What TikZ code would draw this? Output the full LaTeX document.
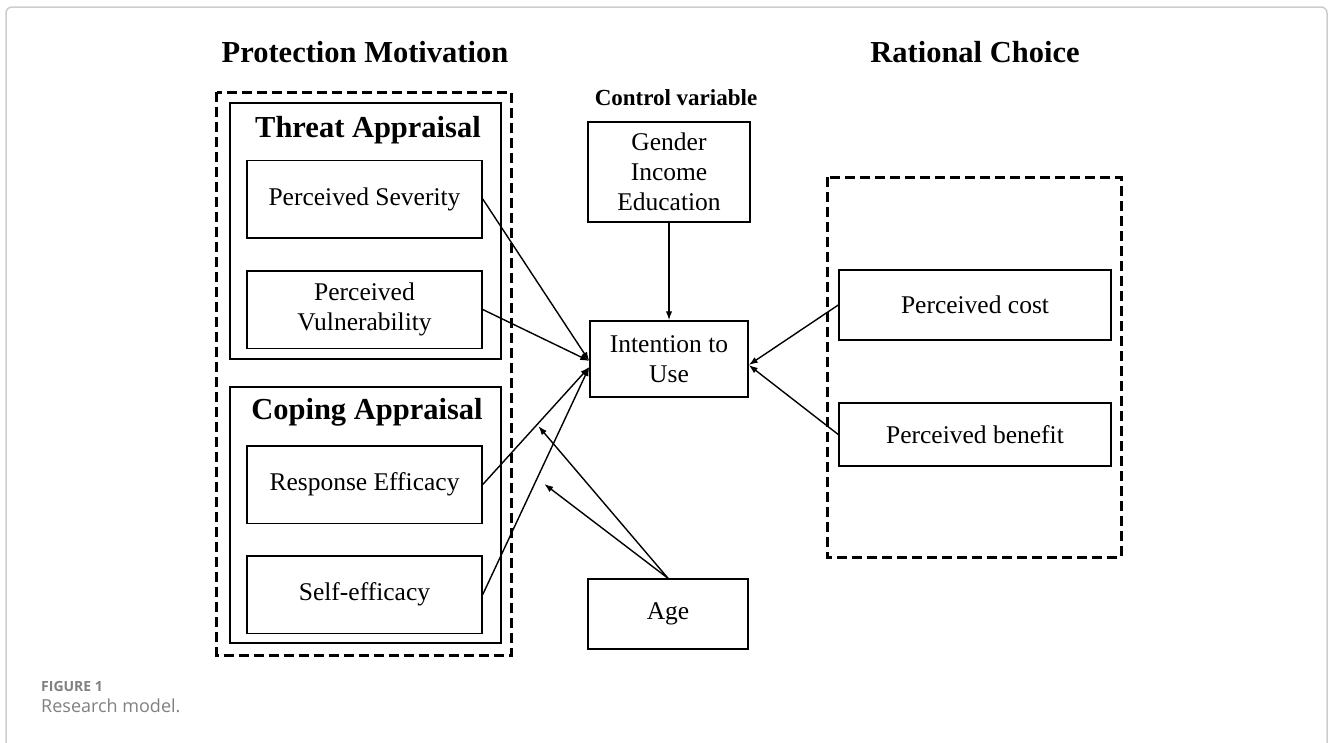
\documentclass[tikz,border=0pt]{standalone}
\usepackage{fontspec}
\setmainfont{Liberation Serif}
\newfontfamily\capfont{Open Sans}
\usetikzlibrary{arrows.meta,calc}

\begin{document}
\begin{tikzpicture}[
        x=1pt, y=-1pt,
        mybox/.style={
            draw,
            line width=1.5pt,
            align=center,
            inner sep=0pt,
            font=\fontsize{25.5}{30}\selectfont
        },
        groupbox/.style={
            draw,
            line width=1.5pt,
            inner sep=0pt,
            minimum width=271pt,
            minimum height=256pt
        },
        dashbox/.style={
            draw,
            line width=3pt,
            dash pattern=on 10pt off 5pt
        },
        heading/.style={
            font=\fontsize{30.5}{34}\selectfont\bfseries
        },
        myarrow/.style={
            line width=1.4pt,
            -{Latex[length=9pt,width=6.5pt]}
        }
    ]
        % cornice e dimensioni della figura
        \useasboundingbox (0,0) rectangle (1330,742);
        \draw[gray!40, line width=1.5pt, rounded corners=6pt] (6,7) rectangle (1327,800);

        % titoli
        \node[heading] (tProt) at (365,52) {Protection Motivation};
        \node[heading] (tRat) at (975,52) {Rational Choice};
        \node[font=\fontsize{23}{27}\selectfont\bfseries] (tCtrl) at (676,98) {Control variable};

        % riquadri tratteggiati
        \draw[dashbox] (216.5,92) rectangle (511,655);
        \draw[dashbox] (827,177) rectangle (1121,557);

        % gruppi Threat / Coping
        \node[groupbox] (threat) at (365.5,231) {};
        \node[groupbox] (coping) at (365.5,515) {};
        \node[heading] (tThreat) at (368,130) {Threat Appraisal};
        \node[heading] (tCoping) at (367,412) {Coping Appraisal};

        % i quattro costrutti a sinistra
        \foreach \nm/\txt/\yy in {sev/Perceived Severity/199,
                                  vul/{Perceived\\Vulnerability}/309.5,
                                  resp/Response Efficacy/484.5,
                                  self/Self-efficacy/594.5} {
            \node[mybox, minimum width=235pt, minimum height=77.5pt] (\nm) at (364.5,\yy) {\txt};
        }

        % colonna centrale
        \node[mybox, minimum width=162pt, minimum height=100pt] (ctrl) at (669,172) {Gender\\Income\\Education};
        \node[mybox, minimum width=158pt, minimum height=76pt] (intent) at (669,359) {Intention to\\Use};
        \node[mybox, minimum width=160pt, minimum height=70pt] (age) at (668,614) {Age};

        % Rational Choice
        \node[mybox, minimum width=272pt, minimum height=70pt] (cost) at (975,305) {Perceived cost};
        \node[mybox, minimum width=272pt, minimum height=63pt] (benefit) at (975,434.5) {Perceived benefit};

        % punti di arrivo sulla Intention
        \coordinate (inA) at ([yshift=-2pt]intent.west);
        \coordinate (inB) at ([yshift=-8pt]intent.west);
        \coordinate (inC) at ([yshift=-6pt]intent.east);

        % collegamenti
        \draw[myarrow] (sev.east) -- (inA);
        \draw[myarrow] (vul.east) -- (inA);
        \draw[myarrow] (resp.east) -- (inB);
        \draw[myarrow] (self.east) -- (inB);
        \draw[myarrow] (ctrl) -- (intent);
        \draw[myarrow] (cost.west) -- (inC);
        \draw[myarrow] (benefit.west) -- (inC);

        % moderazione di Age
        \coordinate (modA) at ($(resp.east)!0.51!(inB)$);
        \coordinate (modB) at ($(self.east)!0.51!(inB)$);
        \draw[myarrow, shorten >=2pt] (age.north) -- (modA);
        \draw[myarrow, shorten >=9pt] (age.north) -- (modB);

        % didascalia
        \node[anchor=west, inner sep=0pt, text=black!50, font=\capfont\fontsize{14}{17}\selectfont\bfseries] (figNum) at (41,686) {FIGURE 1};
        \node[anchor=west, inner sep=0pt, text=black!50, font=\capfont\fontsize{18}{22}\selectfont] (figCap) at (41,706) {Research model.};
    \end{tikzpicture}
\end{document}
